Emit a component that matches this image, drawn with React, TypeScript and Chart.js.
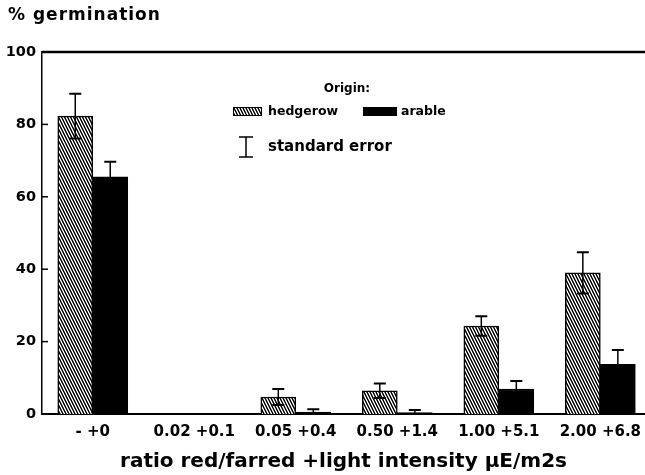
import React, { useEffect, useRef } from "react";
import { Chart, registerables } from "chart.js";

Chart.register(...registerables);

// Treatment groups: red/far-red ratio + light intensity (µE/m2s)
const categories = ["- +0", "0.02 +0.1", "0.05 +0.4", "0.50 +1.4", "1.00 +5.1", "2.00 +6.8"];

// Mean % germination and standard errors per seed origin
const hedgerow = [82.3, 0, 4.7, 6.4, 24.3, 39.0];
const hedgerowErr = [6.2, 0, 2.2, 2.0, 2.7, 5.7];
const arable = [65.5, 0, 0.5, 0.4, 6.9, 13.7];
const arableErr = [4.2, 0, 0.8, 0.7, 2.2, 4.0];

const yTicks = [0, 20, 40, 60, 80, 100];

const FONT = "'DejaVu Sans', 'Liberation Sans', sans-serif";

// Steep back-slanted hatching used for the hedgerow bars
function makeHatch(): CanvasPattern | string {
  const tile = document.createElement("canvas");
  tile.width = 3;
  tile.height = 6;
  const c = tile.getContext("2d");
  if (!c) return "#888";
  c.fillStyle = "#fff";
  c.fillRect(0, 0, 3, 6);
  for (let y = 0; y < 6; y++) {
    const x = Math.floor(y / 2) % 3;
    c.fillStyle = "#000";
    c.fillRect(x, y, 1, 1);
    c.fillStyle = "#777";
    c.fillRect((x + (y % 2 === 0 ? 2 : 1)) % 3, y, 1, 1);
  }
  return c.createPattern(tile, "repeat") || "#888";
}

export default function App() {
  const ref = useRef<HTMLCanvasElement | null>(null);

  useEffect(() => {
    const canvas = ref.current;
    if (!canvas) return;
    const hatch = makeHatch();
    const errs = [hedgerowErr, arableErr];

    const errorBars = {
      id: "errorBars",
      afterDatasetsDraw(chart: any) {
        const ctx = chart.ctx;
        const y = chart.scales.y;
        ctx.save();
        ctx.strokeStyle = "#000";
        chart.data.datasets.forEach((ds: any, d: number) => {
          const meta = chart.getDatasetMeta(d);
          meta.data.forEach((bar: any, i: number) => {
            const e = errs[d][i];
            if (!e) return;
            const v = ds.data[i].y;
            const top = y.getPixelForValue(v + e);
            const bot = y.getPixelForValue(Math.max(0, v - e));
            const x = bar.x;
            ctx.lineWidth = 1.5;
            ctx.beginPath();
            ctx.moveTo(x, top);
            ctx.lineTo(x, bot);
            ctx.stroke();
            ctx.lineWidth = 2;
            ctx.beginPath();
            ctx.moveTo(x - 6, top);
            ctx.lineTo(x + 6, top);
            ctx.moveTo(x - 6, bot);
            ctx.lineTo(x + 6, bot);
            ctx.stroke();
          });
        });
        ctx.restore();
      },
    };

    const decorations = {
      id: "decorations",
      afterDraw(chart: any) {
        const ctx = chart.ctx;
        const area = chart.chartArea;
        const y = chart.scales.y;
        ctx.save();
        ctx.fillStyle = "#000";
        ctx.strokeStyle = "#000";

        // frame top line
        ctx.lineWidth = 2.5;
        ctx.beginPath();
        ctx.moveTo(area.left, area.top);
        ctx.lineTo(area.right, area.top);
        ctx.stroke();

        // inward y tick marks
        ctx.lineWidth = 1.5;
        yTicks.slice(1, -1).forEach((t) => {
          const py = y.getPixelForValue(t);
          ctx.beginPath();
          ctx.moveTo(area.left, py);
          ctx.lineTo(area.left + 6, py);
          ctx.stroke();
        });

        // y axis caption
        ctx.font = `bold 17px ${FONT}`;
        ctx.textAlign = "left";
        ctx.textBaseline = "alphabetic";
        (ctx as any).letterSpacing = "1px";
        ctx.fillText("% germination", 8, 20);
        (ctx as any).letterSpacing = "0px";

        // legend block
        ctx.font = `bold 12px ${FONT}`;
        ctx.textAlign = "center";
        ctx.textBaseline = "middle";
        ctx.fillText("Origin:", 347, 89);

        ctx.fillStyle = hatch as any;
        ctx.fillRect(233, 107, 29, 9);
        ctx.strokeStyle = "#000";
        ctx.lineWidth = 1;
        ctx.strokeRect(233.5, 107.5, 28, 8);
        ctx.fillStyle = "#000";
        ctx.fillRect(363, 107, 34, 9);

        ctx.textAlign = "left";
        ctx.font = `bold 12.5px ${FONT}`;
        ctx.fillText("hedgerow", 268, 112);
        ctx.fillText("arable", 401, 112);

        ctx.lineWidth = 1.5;
        ctx.beginPath();
        ctx.moveTo(246, 137);
        ctx.lineTo(246, 157);
        ctx.moveTo(239, 137);
        ctx.lineTo(253, 137);
        ctx.moveTo(239, 157);
        ctx.lineTo(253, 157);
        ctx.stroke();

        ctx.font = `bold 15px ${FONT}`;
        ctx.fillText("standard error", 268, 147);
        ctx.restore();
      },
    };

    const chart = new Chart(canvas, {
      type: "bar",
      data: {
        datasets: [
          {
            label: "hedgerow",
            data: hedgerow.map((v, i) => ({ x: i, y: v })),
            backgroundColor: hatch as any,
            borderColor: "#000",
            borderWidth: 1.5,
            barThickness: 35,
          },
          {
            label: "arable",
            data: arable.map((v, i) => ({ x: i, y: v })),
            backgroundColor: "#000",
            borderColor: "#000",
            borderWidth: 1.5,
            barThickness: 35,
          },
        ],
      },
      options: {
        responsive: false,
        animation: false,
        devicePixelRatio: 1,
        layout: { padding: { top: 52, left: 0, right: 0, bottom: 0 } },
        plugins: {
          legend: { display: false },
          tooltip: { enabled: false },
          title: { display: false },
        },
        scales: {
          x: {
            type: "linear",
            offset: false,
            min: -0.5,
            max: 5.44,
            grid: { display: false, drawTicks: false },
            border: { display: true, color: "#000", width: 2 },
            afterBuildTicks: (scale: any) => {
              scale.ticks = categories.map((_, i) => ({ value: i }));
            },
            afterFit: (scale: any) => {
              scale.height = 61;
              scale.paddingLeft = 0;
              scale.paddingRight = 0;
            },
            ticks: {
              autoSkip: false,
              maxRotation: 0,
              padding: 9,
              color: "#000",
              font: { family: FONT, size: 15, weight: "bold" },
              callback: (v: any) => categories[v] ?? "",
            },
            title: {
              display: true,
              text: "ratio red/farred +light intensity µE/m2s",
              color: "#000",
              font: { family: FONT, size: 20, weight: "bold" },
              padding: { top: 0, bottom: 1 },
            },
          },
          y: {
            min: 0,
            max: 100,
            grid: { display: false, drawTicks: false },
            border: { display: true, color: "#000", width: 1.5 },
            afterBuildTicks: (scale: any) => {
              scale.ticks = yTicks.map((v) => ({ value: v }));
            },
            afterFit: (scale: any) => {
              scale.width = 42;
            },
            ticks: {
              padding: 6,
              color: "#000",
              font: { family: FONT, size: 14.5, weight: "bold" },
            },
          },
        },
      },
      plugins: [errorBars, decorations],
    });

    return () => chart.destroy();
  }, []);

  return (
    <div style={{ position: "fixed", left: 0, top: 0, width: 645, height: 475, background: "#fff" }}>
      <canvas ref={ref} width={645} height={475} />
    </div>
  );
}
